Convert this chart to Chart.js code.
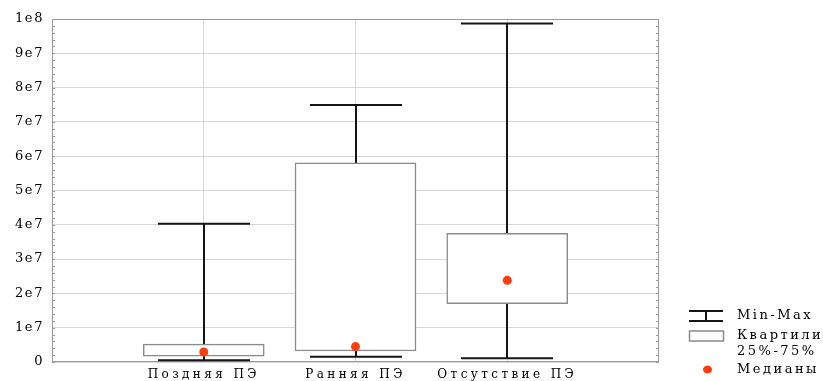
<!DOCTYPE html>
<html>
<head>
<meta charset="utf-8">
<script src="https://cdn.jsdelivr.net/npm/chart.js@4"></script>
<style>
  html, body { margin: 0; padding: 0; background: #fff; }
  #wrap { width: 823px; height: 381px; position: relative; }
</style>
</head>
<body>
<div id="wrap"><canvas id="box-chart"></canvas></div>
<script>
const categories = ['Поздняя ПЭ', 'Ранняя ПЭ', 'Отсутствие ПЭ'];
const minValues = [500000, 1500000, 1100000];
const q1Values = [1700000, 3200000, 17000000];
const medianValues = [2900000, 4500000, 23800000];
const q3Values = [5200000, 58100000, 37500000];
const maxValues = [40300000, 74900000, 98700000];
const yTickLabels = ['0', '1e7', '2e7', '3e7', '4e7', '5e7', '6e7', '7e7', '8e7', '9e7', '1e8'];

const SERIF = '"DejaVu Serif", "Liberation Serif", serif';

// frame round the plot area, with small inner ticks on the left and right sides
const framePlugin = {
    id: 'frame',
    beforeDatasetsDraw(chart) {
        const { ctx, chartArea: a, scales: { y } } = chart;
        ctx.save();
        ctx.strokeStyle = '#9a9a9a';
        ctx.lineWidth = 1;
        ctx.strokeRect(a.left + 0.5, a.top + 0.5, a.right - a.left - 1, a.bottom - a.top - 1);
        ctx.beginPath();
        for (let v = 0; v <= 1e8; v += 2e6) {
            const py = Math.round(y.getPixelForValue(v)) + 0.5;
            ctx.moveTo(a.left, py); ctx.lineTo(a.left + 3, py);
            ctx.moveTo(a.right, py); ctx.lineTo(a.right - 3, py);
        }
        ctx.stroke();
        ctx.restore();
    }
};

const whiskerPlugin = {
    id: 'whiskers',
    beforeDatasetsDraw(chart) {
        const { ctx, scales: { x, y } } = chart;
        const half = 46;
        ctx.save();
        ctx.strokeStyle = '#151515';
        ctx.lineWidth = 2;
        categories.forEach((c, i) => {
            const px = Math.round(x.getPixelForValue(i + 1));
            const yMin = y.getPixelForValue(minValues[i]);
            const yMax = y.getPixelForValue(maxValues[i]);
            ctx.beginPath();
            ctx.moveTo(px, yMin); ctx.lineTo(px, yMax);
            ctx.moveTo(px - half, yMin); ctx.lineTo(px + half, yMin);
            ctx.moveTo(px - half, yMax); ctx.lineTo(px + half, yMax);
            ctx.stroke();
        });
        ctx.restore();
    }
};

// x labels are drawn before the datasets, y labels after them (ticks.z = 1),
// so each axis can get its own letter spacing
const spacingPlugin = {
    id: 'spacing',
    beforeDraw(chart) {
        chart.ctx.letterSpacing = '3.4px';
    },
    afterDatasetsDraw(chart) {
        chart.ctx.letterSpacing = '1.6px';
    }
};

const legendPlugin = {
    id: 'boxLegend',
    afterDraw(chart) {
        const ctx = chart.ctx;
        ctx.save();
        ctx.letterSpacing = '2.5px';
        ctx.font = '13px ' + SERIF;
        ctx.fillStyle = '#000';
        ctx.textBaseline = 'middle';
        ctx.textAlign = 'left';

        // Min-Max
        ctx.strokeStyle = '#151515';
        ctx.lineWidth = 2;
        ctx.beginPath();
        ctx.moveTo(689, 311); ctx.lineTo(723, 311);
        ctx.moveTo(689, 321); ctx.lineTo(723, 321);
        ctx.moveTo(706, 311); ctx.lineTo(706, 321);
        ctx.stroke();
        ctx.fillText('Min-Max', 737, 316);

        // quartiles
        ctx.strokeStyle = '#8a8a8a';
        ctx.lineWidth = 1.5;
        ctx.strokeRect(689.5, 331, 34, 10);
        ctx.fillText('Квартили', 737, 336);
        ctx.fillText('25%-75%', 737, 352);

        // medians
        ctx.fillStyle = '#ff3d0d';
        ctx.beginPath();
        ctx.ellipse(707.5, 369.5, 4.5, 4, 0, 0, Math.PI * 2);
        ctx.fill();
        ctx.fillStyle = '#000';
        ctx.fillText('Медианы', 737, 370);
        ctx.restore();
    }
};

const canvas = document.getElementById('box-chart');
new Chart(canvas.getContext('2d'), {
    type: 'bar',
    data: {
        datasets: [
            {
                type: 'scatter',
                label: 'Медианы',
                data: medianValues.map((v, i) => ({ x: i + 1, y: v })),
                backgroundColor: '#ff3d0d',
                borderWidth: 0,
                pointRadius: 4.5,
                pointHoverRadius: 4.5,
                order: 1
            },
            {
                type: 'bar',
                label: 'Квартили 25%-75%',
                data: q1Values.map((v, i) => ({ x: i + 1, y: [v, q3Values[i]] })),
                backgroundColor: '#ffffff',
                borderColor: '#8a8a8a',
                borderWidth: 1.5,
                borderSkipped: false,
                barThickness: 121,
                order: 2
            }
        ]
    },
    options: {
        responsive: true,
        maintainAspectRatio: false,
        animation: false,
        layout: { padding: { top: 19, right: 164, bottom: 0, left: 0 } },
        plugins: {
            legend: { display: false },
            tooltip: { enabled: false }
        },
        scales: {
            x: {
                type: 'linear',
                min: 0,
                max: 4,
                offset: false,
                afterFit: (scale) => { scale.height = 19; },
                border: { display: false },
                grid: {
                    offset: false,
                    drawTicks: false,
                    color: (c) => (c.tick && c.tick.value >= 1 && c.tick.value <= 3) ? '#d6d6d6' : 'rgba(0,0,0,0)'
                },
                ticks: {
                    stepSize: 1,
                    autoSkip: false,
                    maxRotation: 0,
                    padding: 6,
                    color: '#000',
                    font: { family: SERIF, size: 12 },
                    callback: (v) => categories[v - 1] || ''
                }
            },
            y: {
                min: 0,
                max: 1e8,
                afterFit: (scale) => { scale.width = 52; },
                border: { display: false },
                grid: { drawTicks: false, color: '#d6d6d6' },
                ticks: {
                    z: 1,
                    stepSize: 1e7,
                    padding: 8,
                    color: '#000',
                    font: { family: SERIF, size: 13 },
                    callback: (v, index) => yTickLabels[index]
                }
            }
        }
    },
    plugins: [spacingPlugin, framePlugin, whiskerPlugin, legendPlugin]
});
</script>
</body>
</html>
